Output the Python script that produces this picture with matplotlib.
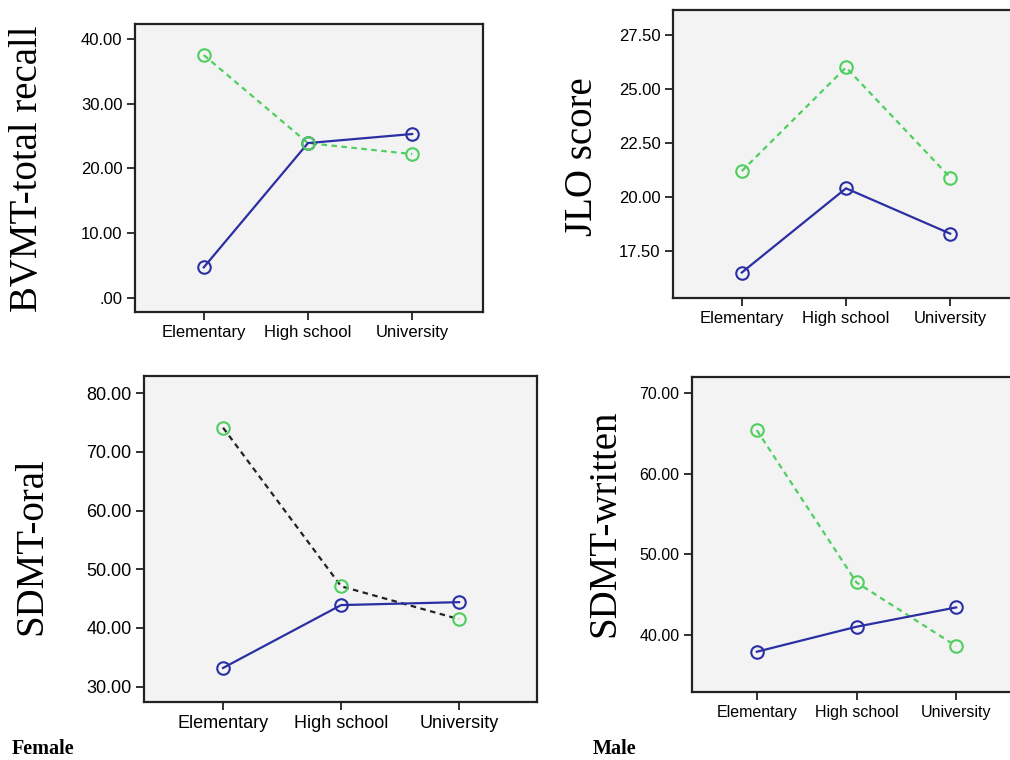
import matplotlib
matplotlib.use('Agg')
import matplotlib.pyplot as plt
from matplotlib.ticker import FuncFormatter

# education levels on the x axis
levels = ['Elementary', 'High school', 'University']

# BVMT-total recall
bvmt_female = [4.7, 23.9, 25.3]
bvmt_male = [37.5, 23.9, 22.2]
bvmt_ticks = [0, 10, 20, 30, 40]

# JLO score
jlo_female = [16.5, 20.4, 18.3]
jlo_male = [21.2, 26.0, 20.9]
jlo_ticks = [17.5, 20, 22.5, 25, 27.5]

# SDMT-oral
oral_female = [33.2, 43.9, 44.4]
oral_male = [74.1, 47.1, 41.5]
oral_ticks = [30, 40, 50, 60, 70, 80]

# SDMT-written
written_female = [37.9, 41.0, 43.4]
written_male = [65.4, 46.5, 38.6]
written_ticks = [40, 50, 60, 70]

BLUE = '#2b2fa3'
GREEN = '#4fcf5f'
BG = '#f3f3f3'

W, H = 1010, 760
fig = plt.figure(figsize=(W / 100, H / 100), dpi=100)


def fmt(v, pos):
    s = f'{v:.2f}'
    if s.startswith('0'):
        s = s[1:]
    return s


def panel(box, female, male, ticks, ylim, xlim, label, label_xy,
          male_line='green', fs=12):
    l, t, r, b = box
    ax = fig.add_axes([l / W, (H - b) / H, (r - l) / W, (b - t) / H])
    ax.set_facecolor(BG)
    x = range(len(levels))
    ax.plot(x, female, '-', color=BLUE, lw=1.6, marker='o', ms=9,
            mfc='none', mec=BLUE, mew=1.5, zorder=3)
    lc = GREEN if male_line == 'green' else '#222222'
    ax.plot(x, male, color=lc, lw=1.6, ls=(0, (2.5, 2)), zorder=2)
    ax.plot(x, male, 'o', ms=9, mfc='none', mec=GREEN, mew=1.5, zorder=4)
    ax.set_xlim(*xlim)
    ax.set_ylim(*ylim)
    ax.set_xticks(list(x))
    ax.set_xticklabels(levels, fontsize=fs, family='Liberation Sans')
    ax.set_yticks(ticks)
    ax.yaxis.set_major_formatter(FuncFormatter(fmt))
    for lab in ax.get_yticklabels():
        lab.set_fontsize(fs)
        lab.set_family('Liberation Sans')
    ax.tick_params(direction='out', length=6, width=1.3, color='#222222', pad=3)
    for sp in ax.spines.values():
        sp.set_linewidth(1.6)
        sp.set_color('#222222')
    fig.text(label_xy[0] / W, 1 - label_xy[1] / H, label, rotation=90,
             ha='center', va='center', fontsize=28, family='Liberation Serif')
    return ax


panel((135, 24, 483, 312), bvmt_female, bvmt_male, bvmt_ticks,
      (-2.2, 42.3), (-0.66, 2.68), 'BVMT-total recall', (28, 169))
panel((673, 10, 1019, 298), jlo_female, jlo_male, jlo_ticks,
      (15.32, 28.66), (-0.66, 2.66), 'JLO score', (582, 157))
panel((144, 376, 537, 702), oral_female, oral_male, oral_ticks,
      (27.4, 82.9), (-0.67, 2.66), 'SDMT-oral', (32, 546),
      male_line='black', fs=13)
panel((692, 377, 1021, 692), written_female, written_male, written_ticks,
      (32.9, 72.0), (-0.65, 2.65), 'SDMT-written', (605, 523), fs=11.5)

fig.text(12 / W, 1 - 749 / H, 'Female', ha='left', va='center',
         fontsize=14.5, fontweight='bold', family='Liberation Serif')
fig.text(593 / W, 1 - 749 / H, 'Male', ha='left', va='center',
         fontsize=14.5, fontweight='bold', family='Liberation Serif')

fig.savefig('out.png', dpi=100, facecolor='white')
